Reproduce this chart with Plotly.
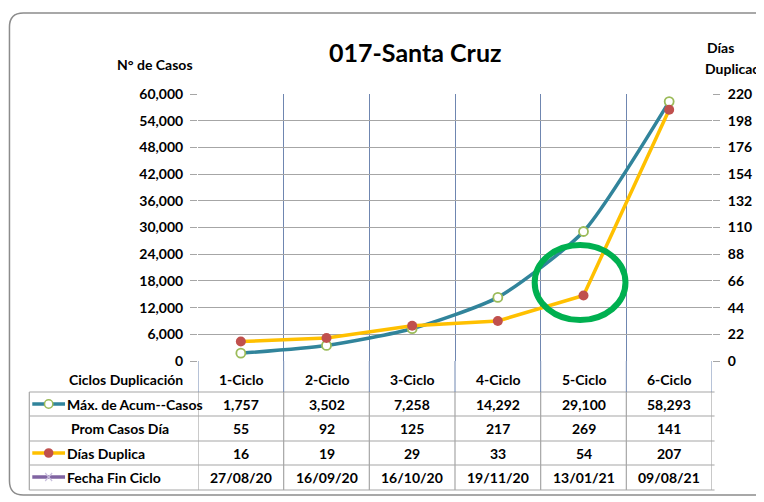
import plotly.graph_objects as go

categories = ["1-Ciclo", "2-Ciclo", "3-Ciclo", "4-Ciclo", "5-Ciclo", "6-Ciclo"]
max_acum_casos = [1757, 3502, 7258, 14292, 29100, 58293]
prom_casos_dia = [55, 92, 125, 217, 269, 141]
dias_duplica = [16, 19, 29, 33, 54, 207]
fecha_fin_ciclo = ["27/08/20", "16/09/20", "16/10/20", "19/11/20", "13/01/21", "09/08/21"]
left_ticks = list(range(0, 60001, 6000))
right_ticks = list(range(0, 221, 22))

FONT = "Lato, Open Sans, sans-serif"
OFF = 8  # page body margin
W, H = 764 - OFF, 502 - OFF
L, R, T, B = 198, 716, 94, 361  # plot area in window px


def px_x(p):
    return (p - L) / (R - L)


def px_y(p):
    return (B - p) / (B - T)


xs = [i + 0.5 for i in range(len(categories))]

fig = go.Figure()
fig.add_trace(go.Scatter(
    x=xs, y=max_acum_casos, mode="lines+markers", name="Máx. de Acum--Casos",
    line=dict(color="#31849B", width=3.5, shape="spline", smoothing=0.6),
    marker=dict(symbol="circle", size=9, color="white", line=dict(color="#9BBB59", width=1.8)),
    yaxis="y", cliponaxis=False,
))
fig.add_trace(go.Scatter(
    x=xs, y=dias_duplica, mode="lines+markers", name="Días Duplica",
    line=dict(color="#FFC000", width=3.5),
    marker=dict(symbol="circle", size=10, color="#C0504D"),
    yaxis="y2", cliponaxis=False,
))

shapes = []
annotations = []

row_lines = [392, 416, 441, 465, 490]
row_centers = [404, 428, 453, 477]
tbl_left = 28

for yp in row_lines:
    shapes.append(dict(type="line", xref="paper", yref="paper",
                       x0=px_x(tbl_left), x1=1.005, y0=px_y(yp), y1=px_y(yp),
                       line=dict(color="#A6A6A6", width=1.2), layer="above"))
shapes.append(dict(type="line", xref="paper", yref="paper",
                   x0=px_x(tbl_left), x1=px_x(tbl_left), y0=px_y(row_lines[0]), y1=px_y(row_lines[-1]),
                   line=dict(color="#A6A6A6", width=1.2)))
for i in range(len(categories) + 1):
    shapes.append(dict(type="line", xref="x", yref="paper",
                       x0=i, x1=i, y0=px_y(row_lines[0]), y1=0,
                       line=dict(color="#6F86B0", width=1)))
    shapes.append(dict(type="line", xref="x", yref="paper",
                       x0=i, x1=i, y0=px_y(row_lines[-1]), y1=px_y(row_lines[0]),
                       line=dict(color="#A6A6A6", width=1.2)))


def key_line(yp, color):
    shapes.append(dict(type="line", xref="paper", yref="paper",
                       x0=px_x(31), x1=px_x(64), y0=px_y(yp), y1=px_y(yp),
                       line=dict(color=color, width=3.5)))


def key_dot(yp, r, fill, edge, ew):
    shapes.append(dict(type="circle", xref="paper", yref="paper",
                       x0=px_x(47.5 - r), x1=px_x(47.5 + r), y0=px_y(yp + r), y1=px_y(yp - r),
                       fillcolor=fill, line=dict(color=edge, width=ew)))


key_line(row_centers[0], "#31849B")
key_dot(row_centers[0], 4.2, "white", "#9BBB59", 1.5)
key_line(row_centers[2], "#FFC000")
key_dot(row_centers[2], 4.8, "#C0504D", "#C0504D", 0)
key_line(row_centers[3], "#8064A2")
for d in (-1, 1):
    shapes.append(dict(type="line", xref="paper", yref="paper",
                       x0=px_x(44), x1=px_x(51), y0=px_y(row_centers[3] - 4 * d), y1=px_y(row_centers[3] + 4 * d),
                       line=dict(color="#C9BEDD", width=1.2)))

shapes.append(dict(type="circle", xref="x", yref="y", x0=3.93, x1=4.99, y0=9200, y1=26070,
                   line=dict(color="#00B050", width=6), layer="above"))

x0f, x1f, y0f, y1f, rr = 8, 790, 13, 495, 14
path = (f"M {px_x(x0f + rr)},{px_y(y0f)} L {px_x(x1f - rr)},{px_y(y0f)} "
        f"Q {px_x(x1f)},{px_y(y0f)} {px_x(x1f)},{px_y(y0f + rr)} "
        f"L {px_x(x1f)},{px_y(y1f - rr)} Q {px_x(x1f)},{px_y(y1f)} {px_x(x1f - rr)},{px_y(y1f)} "
        f"L {px_x(x0f + rr)},{px_y(y1f)} Q {px_x(x0f)},{px_y(y1f)} {px_x(x0f)},{px_y(y1f - rr)} "
        f"L {px_x(x0f)},{px_y(y0f + rr)} Q {px_x(x0f)},{px_y(y0f)} {px_x(x0f + rr)},{px_y(y0f)} Z")
shapes.append(dict(type="path", xref="paper", yref="paper", path=path,
                   line=dict(color="#8C8C8C", width=1.5)))

tf = dict(family=FONT, size=14, color="#000000")

annotations.append(dict(text="<b>Ciclos Duplicación</b>", xref="paper", yref="paper",
                        x=px_x(66), y=px_y(379), xanchor="left", yanchor="middle", showarrow=False, font=tf))
row_labels = ["Máx. de Acum--Casos", "Prom Casos Día", "Días Duplica", "Fecha Fin Ciclo"]
label_x = [64, 68, 64, 64]
for lab, lx, yc in zip(row_labels, label_x, row_centers):
    annotations.append(dict(text=f"<b>{lab}</b>", xref="paper", yref="paper",
                            x=px_x(lx), y=px_y(yc), xanchor="left", yanchor="middle", showarrow=False, font=tf))
rows = [
    [f"{v:,}" for v in max_acum_casos],
    [str(v) for v in prom_casos_dia],
    [str(v) for v in dias_duplica],
    fecha_fin_ciclo,
]
for i, cat in enumerate(categories):
    annotations.append(dict(text=f"<b>{cat}</b>", xref="x", yref="paper", x=xs[i], y=px_y(379),
                            xanchor="center", yanchor="middle", showarrow=False, font=tf))
    for r, yc in zip(rows, row_centers):
        annotations.append(dict(text=f"<b>{r[i]}</b>", xref="x", yref="paper", x=xs[i], y=px_y(yc),
                                xanchor="center", yanchor="middle", showarrow=False, font=tf))

annotations.append(dict(text="<b>017-Santa Cruz</b>", xref="paper", yref="paper", x=px_x(417), y=px_y(52),
                        xanchor="center", yanchor="middle", showarrow=False,
                        font=dict(family=FONT, size=25, color="#000000")))
annotations.append(dict(text="<b>N° de Casos</b>", xref="paper", yref="paper", x=px_x(155), y=px_y(65),
                        xanchor="center", yanchor="middle", showarrow=False, font=tf))
annotations.append(dict(text="<b>Días</b>", xref="paper", yref="paper", x=px_x(725), y=px_y(47),
                        xanchor="center", yanchor="middle", showarrow=False, font=tf))
annotations.append(dict(text="<b>Duplicación</b>", xref="paper", yref="paper", x=px_x(707), y=px_y(68),
                        xanchor="left", yanchor="middle", showarrow=False, font=tf))

fig.update_layout(
    width=W, height=H,
    margin=dict(l=L - OFF, r=W - (R - OFF), t=T - OFF, b=H - (B - OFF)),
    paper_bgcolor="white", plot_bgcolor="white",
    showlegend=False,
    font=tf,
    xaxis=dict(range=[0, 6], tickvals=list(range(7)), showticklabels=False, ticks="",
               showgrid=True, gridcolor="#6F86B0", gridwidth=1, zeroline=False, showline=False,
               fixedrange=True),
    yaxis=dict(range=[0, 60000], tickvals=left_ticks,
               ticktext=[f"<b>{v:,}</b>" for v in left_ticks],
               ticks="outside", ticklen=7, tickcolor="#A6A6A6", tickwidth=1.2,
               ticklabelstandoff=4,
               showgrid=True, gridcolor="#A6A6A6", gridwidth=1.2, zeroline=False, showline=False,
               tickfont=tf, fixedrange=True),
    yaxis2=dict(range=[0, 220], tickvals=right_ticks,
                ticktext=[f"<b>{v}</b>" for v in right_ticks],
                overlaying="y", side="right",
                ticks="outside", ticklen=7, tickcolor="#A6A6A6", tickwidth=1.2,
                ticklabelstandoff=5,
                showgrid=False, zeroline=False, showline=False, tickfont=tf, fixedrange=True),
    shapes=shapes,
    annotations=annotations,
)

fig.write_html("out.html")
